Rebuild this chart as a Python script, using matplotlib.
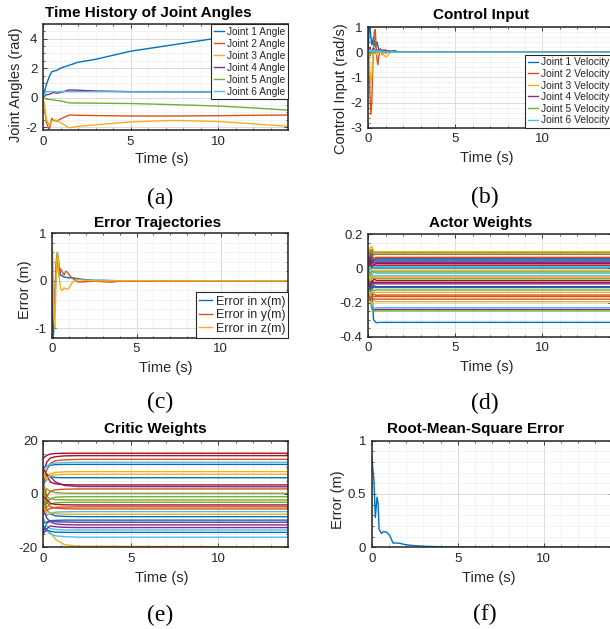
import matplotlib
matplotlib.use('Agg')
import matplotlib.pyplot as plt
from matplotlib.ticker import MultipleLocator, FuncFormatter

plt.rcParams['font.family'] = ['Liberation Sans', 'DejaVu Sans']
plt.rcParams['axes.unicode_minus'] = False

# ---------------- data ----------------
# (a) joint angles
t_ang = [0, 0.1, 0.2, 0.35, 0.5, 0.6, 0.8, 1.0, 1.5, 2.0, 3, 5, 7.5, 10, 12, 14]
joint1_angle = [0, 0.5, 0.9, 1.4, 1.75, 1.8, 1.85, 2.0, 2.2, 2.4, 2.6, 3.15, 3.6, 4.05, 4.45, 4.85]
joint2_angle = [0, -0.9, -1.7, -2.2, -1.4, -1.55, -1.6, -1.45, -1.18, -1.2, -1.22, -1.25, -1.25, -1.23, -1.2, -1.18]
joint3_angle = [0, -0.7, -1.5, -1.85, -1.6, -1.5, -1.55, -1.7, -2.05, -1.95, -1.85, -1.65, -1.55, -1.62, -1.78, -1.95]
joint4_angle = [0, 0.1, 0.2, 0.22, 0.3, 0.35, 0.3, 0.35, 0.52, 0.5, 0.45, 0.4, 0.39, 0.38, 0.38, 0.38]
joint5_angle = [0, -0.05, -0.1, -0.12, -0.15, -0.15, -0.2, -0.22, -0.36, -0.37, -0.38, -0.4, -0.48, -0.57, -0.7, -0.85]
joint6_angle = [0, 0.3, 0.4, 0.4, 0.4, 0.4, 0.4, 0.4, 0.4, 0.4, 0.4, 0.39, 0.39, 0.38, 0.38, 0.38]
angle_labels = ['Joint 1 Angle', 'Joint 2 Angle', 'Joint 3 Angle',
                'Joint 4 Angle', 'Joint 5 Angle', 'Joint 6 Angle']

# (b) control input
t_vel = [0, 0.05, 0.1, 0.15, 0.2, 0.25, 0.3, 0.35, 0.4, 0.45, 0.5, 0.55, 0.6,
         0.7, 0.8, 0.9, 1.0, 1.1, 1.2, 1.3, 1.5, 1.7, 2.0, 14]
joint1_vel = [0.2, 0.9, 0.95, 0.6, 0.3, 0.45, 0.6, 0.4, 0.2, 0.35, 0.4, 0.25, 0.1,
              0.05, 0.08, 0.05, 0.03, 0.02, 0.05, 0.04, 0.06, 0.02, 0.0, 0.0]
joint2_vel = [0, -0.5, -1.8, -2.47, -2.0, -0.8, 0.3, 0.85, 0.9, 0.2, -0.3, -0.5, -0.2,
              0.15, -0.1, 0.1, -0.05, 0.05, 0.0, 0.02, 0.0, 0, 0, 0]
joint3_vel = [0, -0.3, -0.9, -1.15, -1.0, -0.3, 0.2, 0.15, -0.05, -0.1, 0.05, 0.0, -0.05,
              0.05, -0.05, -0.12, -0.18, -0.15, -0.05, 0.0, 0, 0, 0, 0]
joint4_vel = [0, 0.15, 0.2, 0.05, -0.05, 0.1, 0.15, 0.05, 0.0, 0.1, 0.05, 0.08, 0.1,
              0.08, 0.03, 0.05, 0.08, 0.05, 0.03, 0.02, 0.0, 0, 0, 0]
joint5_vel = [0, -0.1, -0.15, -0.05, 0.05, 0.0, -0.05, 0.05, 0.08, 0.02, 0.05, 0.0, 0.02,
              0.03, 0.01, 0.0, 0.02, 0.01, 0, 0, 0, 0, 0, 0]
joint6_vel = [0, 0.05, 0.1, 0.05, 0.0, 0.05, 0.08, 0.02, 0.05, 0.03, 0.06, 0.04, 0.03,
              0.05, 0.02, 0.03, 0.02, 0.01, 0, 0, 0, 0, 0, 0]
vel_labels = ['Joint 1 Velocity', 'Joint 2 Velocity', 'Joint 3 Velocity',
              'Joint 4 Velocity', 'Joint 5 Velocity', 'Joint 6 Velocity']

# (c) error trajectories
t_err = [0, 0.05, 0.1, 0.15, 0.2, 0.25, 0.3, 0.35, 0.4, 0.5, 0.6, 0.7, 0.8, 0.9,
         1.0, 1.2, 1.4, 1.6, 2.0, 2.5, 3.0, 3.5, 4.0, 14]
err_x = [-0.5, -1.2, -1.0, -0.5, 0.1, 0.45, 0.6, 0.5, 0.3, 0.12, 0.1, 0.08, 0.07, 0.07,
         0.06, 0.06, 0.05, 0.04, 0.02, 0.01, 0.01, 0.005, 0.0, 0.0]
err_y = [0.0, -0.6, -0.85, -0.5, 0.1, 0.45, 0.5, 0.2, 0.1, 0.25, 0.18, 0.12, 0.2, 0.18,
         0.12, 0.05, 0.0, -0.03, -0.02, -0.01, -0.02, -0.03, -0.01, 0.0]
err_z = [0.7, 0.2, -0.8, -1.0, -0.3, 0.3, 0.6, 0.5, 0.1, -0.18, -0.2, -0.15, -0.17, -0.18,
         -0.15, -0.03, 0.03, 0.02, 0.01, 0.0, 0.0, 0.0, 0.0, 0.0]
err_labels = ['Error in x(m)', 'Error in y(m)', 'Error in z(m)']

# (d) actor weights, values at t_actor
t_actor = [0, 0.1, 0.2, 0.3, 0.45, 0.7, 14.0]
actor_weights = [
    [-0.05, -0.08, -0.12, -0.30, -0.318, -0.316, -0.316],
    [-0.02, -0.10, -0.17, -0.15, -0.158, -0.156, -0.156],
    [0.05, 0.12, 0.13, 0.10, 0.097, 0.098, 0.098],
    [-0.10, -0.15, -0.22, -0.245, -0.24, -0.24, -0.24],
    [-0.08, -0.18, -0.24, -0.25, -0.249, -0.249, -0.249],
    [-0.06, -0.12, -0.20, -0.235, -0.23, -0.23, -0.23],
    [0.08, 0.10, 0.06, 0.02, 0.03, 0.029, 0.029],
    [0.02, 0.07, 0.09, 0.05, 0.06, 0.059, 0.059],
    [0.04, 0.09, 0.11, 0.08, 0.083, 0.083, 0.083],
    [-0.12, -0.17, -0.21, -0.19, -0.195, -0.195, -0.195],
    [-0.05, -0.09, -0.13, -0.10, -0.107, -0.107, -0.107],
    [-0.09, -0.14, -0.12, -0.13, -0.126, -0.126, -0.126],
    [0.01, -0.05, -0.04, -0.02, -0.028, -0.028, -0.028],
    [-0.02, -0.08, -0.10, -0.06, -0.07, -0.07, -0.07],
    [0.06, 0.02, 0.05, 0.045, 0.043, 0.043, 0.043],
    [0.03, 0.08, 0.07, 0.06, 0.065, 0.065, 0.065],
    [-0.04, 0.02, -0.02, -0.01, -0.01, -0.01, -0.01],
    [0.02, 0.07, 0.03, 0.05, 0.05, 0.05, 0.05],
    [0.07, 0.11, 0.09, 0.092, 0.092, 0.092, 0.092],
    [-0.07, -0.02, -0.05, -0.043, -0.043, -0.043, -0.043],
    [-0.05, -0.11, -0.07, -0.082, -0.081, -0.081, -0.081],
    [-0.02, 0.03, 0.00, 0.004, 0.003, 0.003, 0.003],
    [-0.13, -0.18, -0.16, -0.165, -0.165, -0.165, -0.165],
    [-0.10, -0.16, -0.13, -0.14, -0.14, -0.14, -0.14],
    [0.05, 0.01, 0.04, 0.035, 0.035, 0.035, 0.035],
    [-0.03, -0.08, -0.05, -0.058, -0.058, -0.058, -0.058],
    [0.03, -0.01, 0.02, 0.01, 0.01, 0.01, 0.01],
    [0.00, 0.05, 0.01, 0.02, 0.019, 0.019, 0.019],
    [-0.08, -0.13, -0.10, -0.112, -0.112, -0.112, -0.112],
    [-0.15, -0.19, -0.17, -0.18, -0.18, -0.18, -0.18],
    [-0.02, -0.07, -0.04, -0.05, -0.05, -0.05, -0.05],
    [-0.06, -0.11, -0.085, -0.09, -0.09, -0.09, -0.09],
    [0.01, -0.04, -0.015, -0.02, -0.02, -0.02, -0.02],
]

# (e) critic weights, values at t_critic
t_critic = [0, 0.2, 0.4, 0.7, 1.2, 2.0, 14]
critic_weights = [
    [-3, -6, -7.5, -8.2, -8.4, -8.5, -8.5],
    [6, 9, 11.5, 12.5, 12.8, 13.0, 13.0],
    [-12, -13.5, -14.5, -17, -19, -19.6, -19.8],
    [5, 7.5, 6.5, 4.5, 3.2, 2.8, 2.7],
    [-6, -1, -1.8, -2.1, -2.2, -2.25, -2.25],
    [-13, -14, -15, -15.7, -16.0, -16.2, -16.2],
    [13.5, 14.5, 15.0, 15.2, 15.3, 15.3, 15.3],
    [3, 7, 6.5, 6.2, 6.1, 6.1, 6.1],
    [-2, -6, -5.5, -5, -4.9, -4.8, -4.8],
    [7, 5, 7.5, 8.1, 8.3, 8.4, 8.4],
    [-14, -11, -10, -10.4, -10.5, -10.6, -10.6],
    [-2, 2, 1, 0.5, 0.3, 0.25, 0.25],
    [-4, -8, -7.2, -6.8, -6.7, -6.6, -6.6],
    [10, 7, 4.5, 3.8, 3.5, 3.4, 3.4],
    [-11, -10.5, -10, -9.9, -9.8, -9.8, -9.8],
    [4, -1, 1, 1.6, 1.8, 1.9, 1.9],
    [8, 6, 6.8, 7.2, 7.35, 7.4, 7.4],
    [-6, -9, -10.5, -11.2, -11.5, -11.6, -11.6],
    [2, -3, -1.8, -1.2, -1.05, -1.0, -1.0],
    [-9, -12, -13, -13.3, -13.5, -13.5, -13.5],
    [8, 12, 13.5, 14.0, 14.3, 14.4, 14.4],
    [10, 10.5, 10.8, 11.0, 11.1, 11.1, 11.1],
    [-8, -3, -4.8, -5.3, -5.5, -5.6, -5.6],
    [-5, -6.5, -7.2, -7.4, -7.55, -7.6, -7.6],
    [-15, -13, -12, -12.3, -12.5, -12.6, -12.6],
    [-1, -5, -3.8, -3.3, -3.15, -3.1, -3.1],
    [9, 10.5, 11.2, 11.6, 11.8, 11.9, 11.9],
    [-1, -2, -3.5, -3.9, -4.05, -4.1, -4.1],
    [-12, -13.5, -14, -14.3, -14.4, -14.4, -14.4],
]

# (f) RMSE
t_rmse = [0, 0.13, 0.21, 0.31, 0.37, 0.43, 0.56, 0.66, 0.85, 1.05, 1.24, 1.53,
          1.7, 1.95, 2.3, 3.0, 4.0, 5.0, 14]
rmse = [0.85, 0.63, 0.28, 0.47, 0.41, 0.17, 0.13, 0.145, 0.145, 0.11, 0.04, 0.04,
        0.035, 0.025, 0.018, 0.01, 0.005, 0.002, 0.0]

# ---------------- styling ----------------
W, H = 610, 629
COLORS = ['#0072BD', '#D95319', '#EDB120', '#7E2F8E', '#77AC30', '#4DBEEE', '#A2142F']
TXT = '#262626'
LW = 1.0

fig = plt.figure(figsize=(W / 100, H / 100), dpi=100)


def add_ax(l, t, r, b):
    ax = fig.add_axes([l / W, 1 - b / H, (r - l) / W, (b - t) / H])
    ax.set_prop_cycle(color=COLORS)
    return ax


def style(ax, ylim, yticks, yminor):
    ax.set_xlim(0, 14)
    ax.set_ylim(*ylim)
    ax.set_xticks([0, 5, 10])
    ax.set_yticks(yticks)
    ax.xaxis.set_minor_locator(MultipleLocator(1))
    ax.yaxis.set_minor_locator(MultipleLocator(yminor))
    ax.yaxis.set_major_formatter(FuncFormatter(lambda v, p: f'{v:g}'))
    ax.grid(True, which='major', color='#d6d6d6', lw=0.6)
    ax.grid(True, which='minor', color='#eeeeee', lw=0.5)
    ax.set_axisbelow(True)
    ax.tick_params(which='both', direction='in', top=True, right=True,
                   colors=TXT, labelsize=9.5, pad=4)
    ax.tick_params(which='major', length=3, width=0.6)
    ax.tick_params(which='minor', length=1.5, width=0.5)
    for s in ax.spines.values():
        s.set_color(TXT)
        s.set_linewidth(1.1)


def xlab(ax, px, py, text='Time (s)'):
    ax.set_xlabel(text, fontsize=10.5, color=TXT, va='center')
    ax.xaxis.set_label_coords(px / W, 1 - py / H, transform=fig.transFigure)


def ylab(ax, px, py, text):
    ax.set_ylabel(text, fontsize=10.5, color=TXT, va='center')
    ax.yaxis.set_label_coords(px / W, 1 - py / H, transform=fig.transFigure)


def title(px, py, text):
    fig.text(px / W, 1 - py / H, text, ha='center', va='center',
             fontsize=11, fontweight='bold', color='black')


def caption(px, py, text):
    fig.text(px / W, 1 - py / H, text, ha='center', va='center',
             fontsize=17, family='Liberation Serif', color='black')


def legend(ax, loc, anchor, fs, spacing):
    leg = ax.legend(loc=loc, bbox_to_anchor=anchor, borderaxespad=0, fontsize=fs,
                    fancybox=False, edgecolor=TXT, framealpha=1,
                    handlelength=1.0, handletextpad=0.3, labelspacing=spacing,
                    borderpad=0.25)
    leg.get_frame().set_linewidth(0.8)
    for t in leg.get_texts():
        t.set_color(TXT)


# (a)
axa = add_ax(43, 24, 288, 130)
for vals, lab in zip([joint1_angle, joint2_angle, joint3_angle, joint4_angle,
                      joint5_angle, joint6_angle], angle_labels):
    axa.plot(t_ang, vals, lw=LW, label=lab)
style(axa, (-2.2, 5), [-2, 0, 2, 4], 0.5)
legend(axa, 'upper right', (1, 1), 7.3, 0.2)
xlab(axa, 161.8, 159)
ylab(axa, 16.5, 85, 'Joint Angles (rad)')
title(148.7, 13, 'Time History of Joint Angles')
caption(160, 198, '(a)')

# (b)
axb = add_ax(368.3, 27, 612, 127.7)
for vals, lab in zip([joint1_vel, joint2_vel, joint3_vel, joint4_vel,
                      joint5_vel, joint6_vel], vel_labels):
    axb.plot(t_vel, vals, lw=LW, label=lab)
style(axb, (-3, 1), [-3, -2, -1, 0, 1], 0.2)
legend(axb, 'lower right', (1, 0), 7.4, 0.15)
xlab(axb, 486.3, 158.3)
ylab(axb, 340.5, 88.3, 'Control Input (rad/s)')
title(481.2, 15.5, 'Control Input')
caption(485, 197, '(b)')

# (c)
axc = add_ax(52.3, 233.3, 288.3, 337.7)
for vals, lab in zip([err_x, err_y, err_z], err_labels):
    axc.plot(t_err, vals, lw=LW, label=lab)
style(axc, (-1.2, 1), [-1, 0, 1], 0.2)
legend(axc, 'lower right', (1, 0), 9, 0.12)
xlab(axc, 166.2, 368)
ylab(axc, 25, 290, 'Error (m)')
title(158, 222.5, 'Error Trajectories')
caption(160, 402.5, '(c)')

# (d)
axd = add_ax(368.3, 234.3, 612, 336.7)
for row in actor_weights:
    axd.plot(t_actor, row, lw=LW)
style(axd, (-0.4, 0.2), [-0.4, -0.2, 0, 0.2], 0.05)
xlab(axd, 486.3, 366.7)
title(480.8, 222.8, 'Actor Weights')
caption(485, 403, '(d)')

# (e)
axe = add_ax(43.3, 440.7, 288.3, 547.3)
for row in critic_weights:
    axe.plot(t_critic, row, lw=LW)
style(axe, (-20, 20), [-20, 0, 20], 5)
xlab(axe, 162, 578)
title(155.8, 429.5, 'Critic Weights')
caption(160, 615, '(e)')

# (f)
axf = add_ax(371.7, 440.7, 612.5, 547.3)
axf.plot(t_rmse, rmse, lw=LW)
style(axf, (0, 1), [0, 0.5, 1], 0.1)
xlab(axf, 488.5, 578)
ylab(axf, 337.7, 500, 'Error (m)')
title(475.5, 429.5, 'Root-Mean-Square Error')
caption(485, 614, '(f)')

fig.savefig('out.png', dpi=100)
